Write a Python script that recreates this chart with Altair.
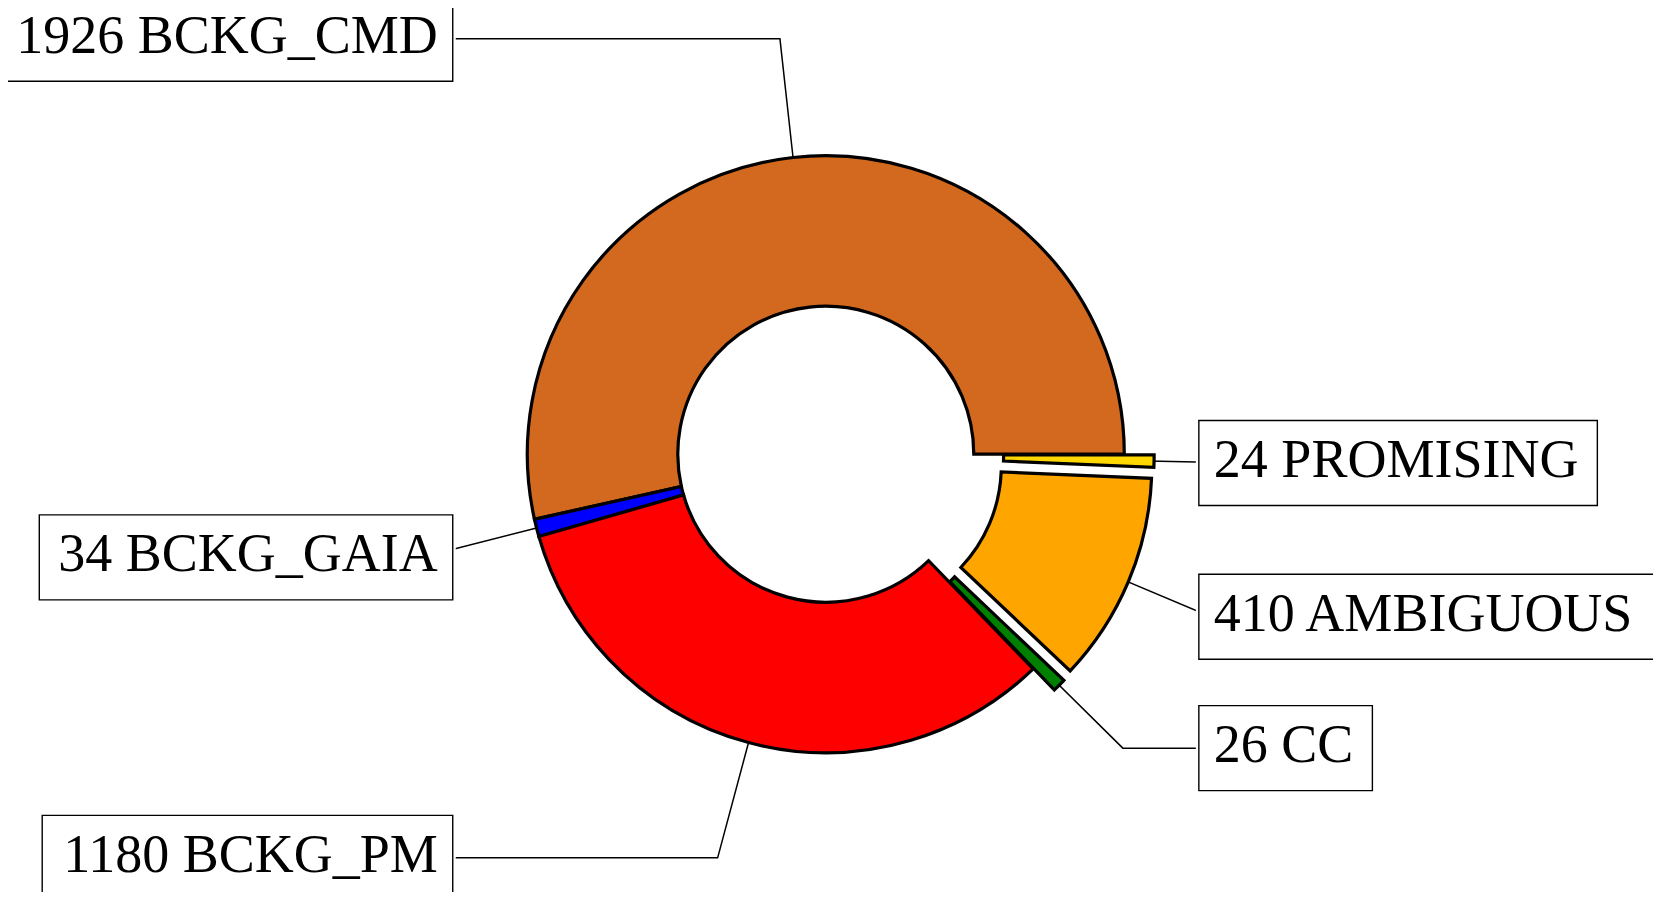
import math
import altair as alt
import pandas as pd

# ---------------- data ----------------
labels = ["BCKG_CMD", "BCKG_GAIA", "BCKG_PM", "CC", "AMBIGUOUS", "PROMISING"]
counts = [1926, 34, 1180, 26, 410, 24]
colors = ["#D2691E", "#0000FF", "#FF0000", "#008000", "#FFA500", "#FFD700"]
explode = [0.0, 0.0, 0.0, 0.1, 0.1, 0.1]

# ---------------- layout / style ----------------
W, H = 1645, 884          # whole chart in px
R = 298.5                 # outer radius (px)
R_IN = 148.0              # inner radius (px)
CX, CY = 817.8, 446.2     # pie centre in chart px
FONT = "Liberation Serif"
FS = 54
NEAR_PAD, FAR_PAD, HALF_H = 15.0, 19.0, 42.5

# Times / Liberation Serif advance widths (per 1000 em) for box sizing
ADV = {" ": 250, "_": 500, "A": 722, "B": 667, "C": 667, "D": 722, "E": 611,
       "G": 722, "I": 333, "K": 722, "M": 889, "N": 722, "O": 722, "P": 556,
       "R": 667, "S": 556, "U": 722}


def text_w(s):
    return sum(ADV.get(ch, 500) for ch in s) / 1000.0 * FS


total = float(sum(counts))
rows, line_rows = [], []
acc = 0.0
for lab, n, col, ex in zip(labels, counts, colors, explode):
    s, e = acc, acc + n
    acc = e
    mid = math.radians((s + e) / 2.0 / total * 360.0)
    c, si = math.cos(mid), math.sin(mid)
    side = 1.0 if c >= 0 else -1.0
    txt = f"{n} {lab}"
    tw = text_w(txt)
    tx, ty = 1.3 * side, 1.4 * si
    if side > 0:
        bx1, bx2 = tx - NEAR_PAD / R, tx + (tw + FAR_PAD) / R
    else:
        bx1, bx2 = tx - (tw + FAR_PAD) / R, tx + NEAR_PAD / R
    rows.append(dict(label=lab, text=txt, start=s, end=e, color=col,
                     cx=ex * c, cy=ex * si, tx=tx, ty=ty, side=side,
                     bx1=bx1, bx2=bx2, by1=ty - HALF_H / R, by2=ty + HALF_H / R))
    pts = [(c, si), (1.4 * c, 1.4 * si), (tx, ty)]
    for k, (px, py) in enumerate(pts):
        line_rows.append(dict(label=lab, k=k, lx=px, ly=py))

df = pd.DataFrame(rows)
dl = pd.DataFrame(line_rows)

xs = alt.Scale(domain=[-CX / R, (W - CX) / R], nice=False, zero=False)
ys = alt.Scale(domain=[-(H - CY) / R, CY / R], nice=False, zero=False)

lines = alt.Chart(dl).mark_line(color="black", strokeWidth=1.5).encode(
    x=alt.X("lx:Q", scale=xs, axis=None),
    y=alt.Y("ly:Q", scale=ys, axis=None),
    detail="label:N",
    order="k:Q",
)

arcs = alt.Chart(df).mark_arc(
    radius=R, radius2=R_IN, stroke="black", strokeWidth=3.2, strokeJoin="miter"
).encode(
    x=alt.X("cx:Q", scale=xs, axis=None),
    y=alt.Y("cy:Q", scale=ys, axis=None),
    theta=alt.Theta("start:Q", scale=alt.Scale(domain=[0, total],
                                               range=[2.5 * math.pi, 0.5 * math.pi])),
    theta2="end:Q",
    color=alt.Color("color:N", scale=None),
)

halo = alt.Chart(df).mark_rect(fill="white", stroke="white", strokeWidth=6).encode(
    x=alt.X("bx1:Q", scale=xs, axis=None), x2="bx2:Q",
    y=alt.Y("by1:Q", scale=ys, axis=None), y2="by2:Q",
)

boxes = alt.Chart(df).mark_rect(fill="white", stroke="black", strokeWidth=1.4).encode(
    x=alt.X("bx1:Q", scale=xs, axis=None), x2="bx2:Q",
    y=alt.Y("by1:Q", scale=ys, axis=None), y2="by2:Q",
)

text_right = alt.Chart(df).transform_filter(alt.datum.side > 0).mark_text(
    font=FONT, fontSize=FS, align="left", baseline="middle", dy=-2, color="black"
).encode(
    x=alt.X("tx:Q", scale=xs, axis=None),
    y=alt.Y("ty:Q", scale=ys, axis=None),
    text="text:N",
)

text_left = alt.Chart(df).transform_filter(alt.datum.side < 0).mark_text(
    font=FONT, fontSize=FS, align="right", baseline="middle", dy=-2, color="black"
).encode(
    x=alt.X("tx:Q", scale=xs, axis=None),
    y=alt.Y("ty:Q", scale=ys, axis=None),
    text="text:N",
)

chart = alt.layer(lines, arcs, halo, boxes, text_left, text_right).properties(
    width=W, height=H, padding=0, background="white",
    autosize=alt.AutoSizeParams(type="none"),
).configure_view(strokeWidth=0)

chart.save("out.html", embed_options={"renderer": "svg", "actions": False})
